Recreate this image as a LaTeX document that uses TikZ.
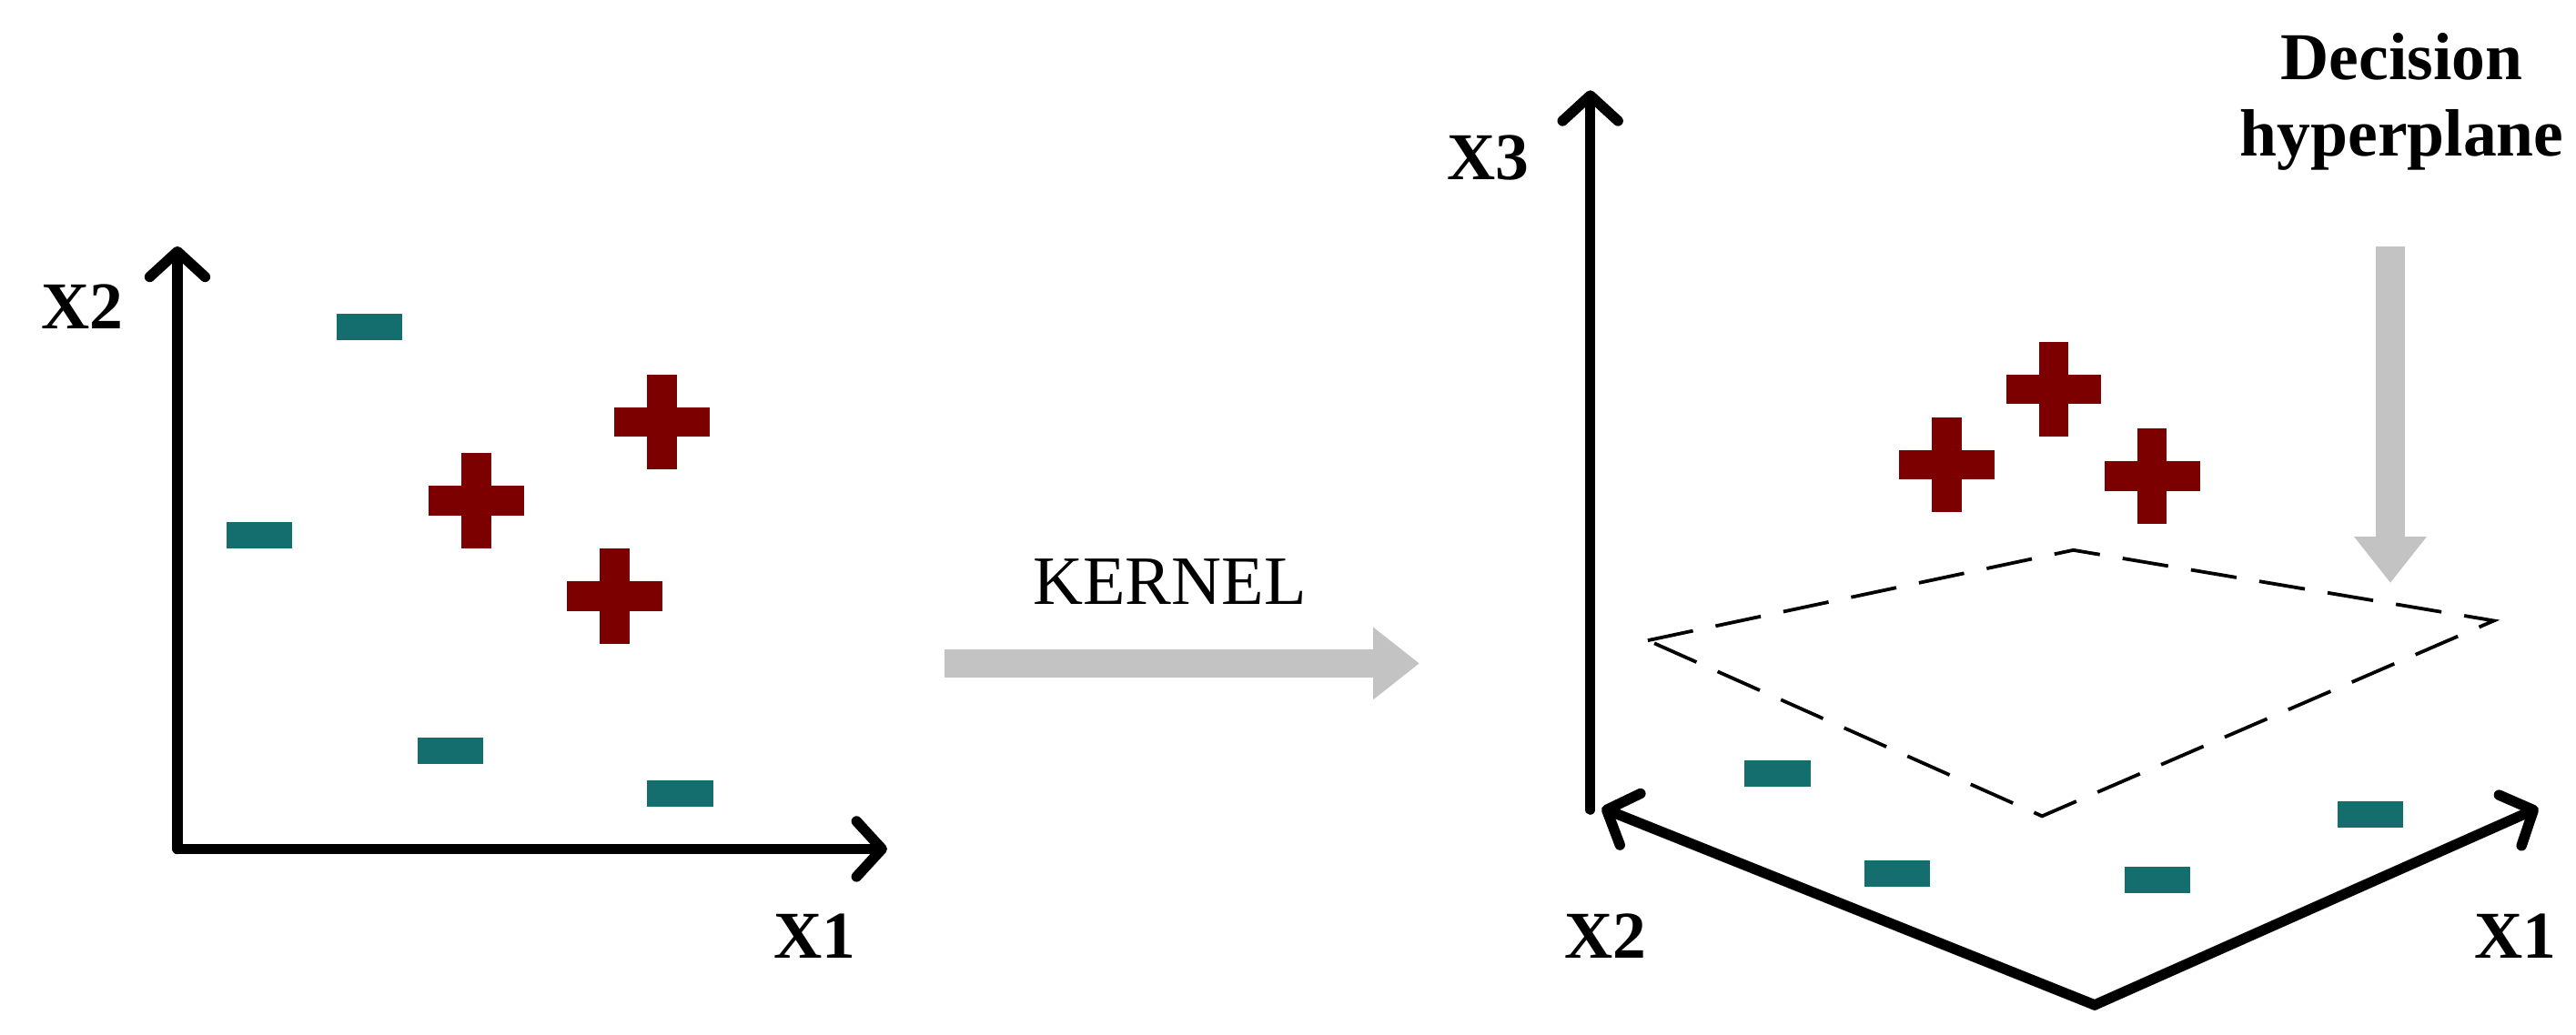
\documentclass[tikz,border=0pt]{standalone}
\usepackage{fontspec}
\setmainfont{Liberation Serif}
\usetikzlibrary{arrows.meta}
\definecolor{teal1}{RGB}{20,110,110}
\definecolor{red1}{RGB}{125,0,0}
\definecolor{gray1}{RGB}{195,195,195}
\tikzset{
 axis/.style={line width=9pt,line cap=round,-{Straight Barb[length=22pt,width=48pt,line width=9pt,round]}},
 lbl/.style={font=\fontsize{58}{66}\selectfont\bfseries},
 minus/.style={fill=teal1,minimum width=2cm,minimum height=0.8cm,inner sep=0pt},
 garrow/.style={gray1,line width=25pt,-{Triangle[length=40pt,width=60pt]}},
 plusmk/.pic={\fill[red1] (-29,-9) rectangle (29,9); \fill[red1] (-9,-29) rectangle (9,29);}
}
\begin{document}
\begin{tikzpicture}[x=0.05cm,y=-0.05cm]
\useasboundingbox (0,0) rectangle (1568,630);
% left
\coordinate (O1) at (108,517);
\coordinate (Y1) at (108,150);
\coordinate (X1e) at (540,517);
\draw[axis] (O1) -- (Y1);
\draw[axis] (O1) -- (X1e);
\node[lbl] (lx2) at (50,187) {X2};
\node[lbl] (lx1) at (496,570) {X1};
\node[minus] (m1) at (225,199) {};
\node[minus] (m2) at (158,326) {};
\node[minus] (m3) at (274,457) {};
\node[minus] (m4) at (414,483) {};
\pic at (290,305) {plusmk};
\pic at (403,257) {plusmk};
\pic at (374,363) {plusmk};
% kernel
\node[font=\fontsize{60}{66}\selectfont] (k) at (712,354) {KERNEL};
\coordinate (ka) at (575,404);
\coordinate (kb) at (864,404);
\draw[garrow] (ka) -- (kb);
% right
\coordinate (O2) at (968,493);
\coordinate (Z2) at (968,55);
\coordinate (B2) at (1275,612);
\coordinate (X2e) at (975,492);
\coordinate (X1f) at (1545,492);
\draw[axis] (O2) -- (Z2);
\draw[axis] (B2) -- (X2e);
\draw[axis] (B2) -- (X1f);
\node[lbl] (lx3) at (906,96) {X3};
\node[lbl] (lx2b) at (977,570) {X2};
\node[lbl] (lx1b) at (1531,570) {X1};
\draw[line width=3pt,dash pattern=on 40pt off 20pt] (1003,390) -- (1262,335) -- (1518,378) -- (1243,497) -- cycle;
\pic at (1185,283) {plusmk};
\pic at (1250,237) {plusmk};
\pic at (1310,290) {plusmk};
\node[minus] (m5) at (1082,471) {};
\node[minus] (m6) at (1155,532) {};
\node[minus] (m7) at (1313,536) {};
\node[minus] (m8) at (1443,496) {};
\node[lbl,align=center] (dh) at (1462,62) {Decision\\hyperplane};
\coordinate (da) at (1455,150);
\coordinate (db) at (1455,355);
\draw[garrow] (da) -- (db);
\end{tikzpicture}
\end{document}
